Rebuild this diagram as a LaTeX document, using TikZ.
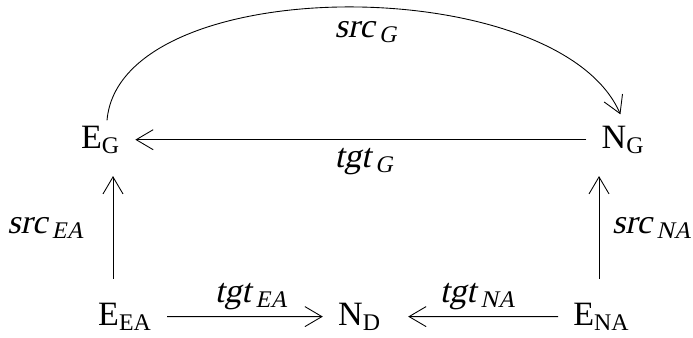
\documentclass[tikz,border=0pt]{standalone}
\usepackage{fontspec}
\setmainfont{Liberation Serif}
\newfontfamily\slantfont{Liberation Serif}[FakeSlant=0.22]
\usetikzlibrary{arrows.meta}

\newcommand{\objname}[2]{#1\textsubscript{#2}}
\newcommand{\maplabel}[2]{{\slantfont #1\kern0.14em\textsubscript{\slantfont #2}}}

\tikzset{
	obj/.style={anchor=base, inner xsep=0.3cm, inner ysep=0.1cm},
	maplbl/.style={anchor=base, inner sep=1pt},
	arr/.style={-{Straight Barb[length=0.34cm,width=0.4cm]}, line width=0.5pt}
}

\begin{document}
\begin{tikzpicture}[font=\fontsize{19.4}{23}\selectfont]
		\useasboundingbox (0,0) rectangle (13.86,6.74);
		
		% Objects
		\node[obj] (EG) at (2.01,3.78) {\objname{E}{G}};
		\node[obj] (NG) at (12.46,3.78) {\objname{N}{G}};
		\node[obj] (EEA) at (2.5,0.24) {\objname{E}{EA}};
		\node[obj] (ND) at (7.19,0.24) {\objname{N}{D}};
		\node[obj] (ENA) at (12.03,0.24) {\objname{E}{NA}};
		
		% Graph part
		\draw[arr, shorten >=0.13cm] ([xshift=0.13cm]EG.north) .. controls +(0.26,3.0) and +(-1.3,3.0) .. (NG.north);
		\draw[arr] (NG.west) -- (EG.east);
		
		% Attribute edges
		\draw[arr, shorten <=0.37cm, shorten >=0.34cm] ([xshift=-0.24cm]EEA.north) -- ([xshift=-0.24cm]EEA.north |- EG.south);
		\draw[arr, shorten <=0.37cm, shorten >=0.34cm] ([xshift=-0.05cm]ENA.north) -- ([xshift=-0.05cm]ENA.north |- NG.south);
		\draw[arr] (EEA.east) -- (ND.west);
		\draw[arr, shorten >=0.24cm] (ENA.west) -- (ND.east);
		
		% Labels
		\node[maplbl] (srcG) at (7.32,6.00) {\maplabel{src}{G}};
		\node[maplbl] (tgtG) at (7.28,3.40) {\maplabel{tgt}{G}};
		\node[maplbl] (srcEA) at (0.92,2.08) {\maplabel{src}{EA}};
		\node[maplbl] (srcNA) at (13.04,2.08) {\maplabel{src}{NA}};
		\node[maplbl] (tgtEA) at (5.03,0.70) {\maplabel{tgt}{EA}};
		\node[maplbl] (tgtNA) at (9.56,0.70) {\maplabel{tgt}{NA}};
		
\end{tikzpicture}
\end{document}
